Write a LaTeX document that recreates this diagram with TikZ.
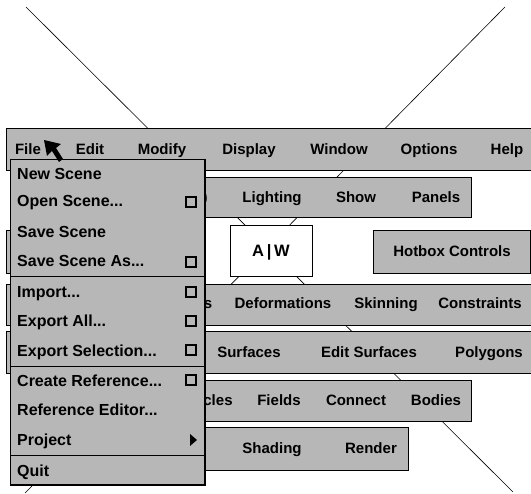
\documentclass[tikz,border=0pt]{standalone}
\usepackage{fontspec}
\setmainfont{Liberation Sans}
\definecolor{hbgray}{RGB}{183,183,184}

\begin{document}
\begin{tikzpicture}[x = 1pt, y = -1pt,
		panel/.style = {draw, fill = hbgray, line width = .8pt},
		lbl/.style = {font = \bfseries\fontsize{15}{17}\selectfont, inner sep = 0pt, anchor = base},
		item/.style = {lbl, font = \bfseries\fontsize{16}{18}\selectfont, anchor = base west},
		optbox/.style = {draw, fill = hbgray, line width = 2pt, minimum size = 10pt, inner sep = 0pt}]
		\useasboundingbox [fill = white] (0,0) rectangle (531,494);
		
		\coordinate (NW) at (26,7);
		\coordinate (SE) at (513,492);
		\coordinate (NE) at (505,7);
		\coordinate (SW) at (25,493);
		\draw [semithick] (NW) -- (SE);
		\draw [semithick] (NE) -- (SW);
		
		% menu bar
		\draw [panel] (6,128) rectangle (540,170);
		\node (File) at (28,155) [lbl] {File};
		\node (Edit) at (90,155) [lbl] {Edit};
		\node (Modify) at (162,155) [lbl] {Modify};
		\node (Display) at (249,155) [lbl] {Display};
		\node (Window) at (339,155) [lbl] {Window};
		\node (Options) at (429,155) [lbl] {Options};
		\node (Help) at (507,155) [lbl] {Help};
		
		\draw [panel] (66,177) rectangle (471,217);
		\node (Paren) at (205,203) [lbl] {)};
		\node (Lighting) at (272,203) [lbl] {Lighting};
		\node (Show) at (356,203) [lbl] {Show};
		\node (Panels) at (436,203) [lbl] {Panels};
		
		% centre row
		\draw [panel] (6,230) rectangle (165,273);
		\draw [draw, fill = white, line width = .8pt] (230,225) rectangle (312,276);
		\node (AW) at (271,257) [lbl, font = \bfseries\fontsize{16.5}{18}\selectfont] {A\,|\,W};
		\draw [panel] (373,230) rectangle (530,273);
		\node (Hotbox) at (452,257) [lbl] {Hotbox Controls};
		
		\draw [panel] (6,284) rectangle (540,325);
		\node (Keys) at (208,309) [lbl] {s};
		\node (Deform) at (283,309) [lbl] {Deformations};
		\node (Skin) at (386,309) [lbl] {Skinning};
		\node (Constr) at (480,309) [lbl] {Constraints};
		
		\draw [panel] (6,331) rectangle (540,373);
		\node (Surf) at (249,358) [lbl] {Surfaces};
		\node (EditSurf) at (369,358) [lbl] {Edit Surfaces};
		\node (Poly) at (489,358) [lbl] {Polygons};
		
		\draw [panel] (66,380) rectangle (471,421);
		\node (Part) at (218,406) [lbl] {cles};
		\node (Fields) at (279,406) [lbl] {Fields};
		\node (Connect) at (356,406) [lbl] {Connect};
		\node (Bodies) at (436,406) [lbl] {Bodies};
		
		\draw [panel] (130,427) rectangle (408,470);
		\node (Shading) at (272,454) [lbl] {Shading};
		\node (Render) at (371,454) [lbl] {Render};
		
		% File menu
		\draw [panel] (10,159) rectangle (205,485);
		\draw [line width = 1.6pt] (205,159) -- (205,485) -- (10,485);
		\draw [semithick] (10,276) -- (205,276);
		\draw [semithick] (10,366) -- (205,366);
		\draw [semithick] (10,455) -- (205,455);
		
		\node (New) at (17,180) [item] {New Scene};
		\node (Open) at (17,207) [item] {Open Scene...};
		\node (Save) at (17,238) [item] {Save Scene};
		\node (SaveAs) at (17,267) [item] {Save Scene As...};
		\node (Import) at (17,298) [item] {Import...};
		\node (ExpAll) at (17,327) [item] {Export All...};
		\node (ExpSel) at (17,357) [item] {Export Selection...};
		\node (CreateRef) at (17,387) [item] {Create Reference...};
		\node (RefEd) at (17,416) [item] {Reference Editor...};
		\node (Project) at (17,446) [item] {Project};
		\node (Quit) at (17,477) [item] {Quit};
		
		\node (obOpen) at (191,202) [optbox] {};
		\node (obSaveAs) at (191,262) [optbox] {};
		\node (obImport) at (191,292) [optbox] {};
		\node (obExpAll) at (191,321) [optbox] {};
		\node (obExpSel) at (191,350) [optbox] {};
		\node (obCreateRef) at (191,380) [optbox] {};
		\fill (190,434) -- (197,440) -- (190,446) -- cycle;
		
		% pointer
		\fill (44,140) -- (47,156) -- (52,151) -- (59,162) -- (63,159) -- (56,148) -- (61,144) -- cycle;
		\end{tikzpicture}
\end{document}
